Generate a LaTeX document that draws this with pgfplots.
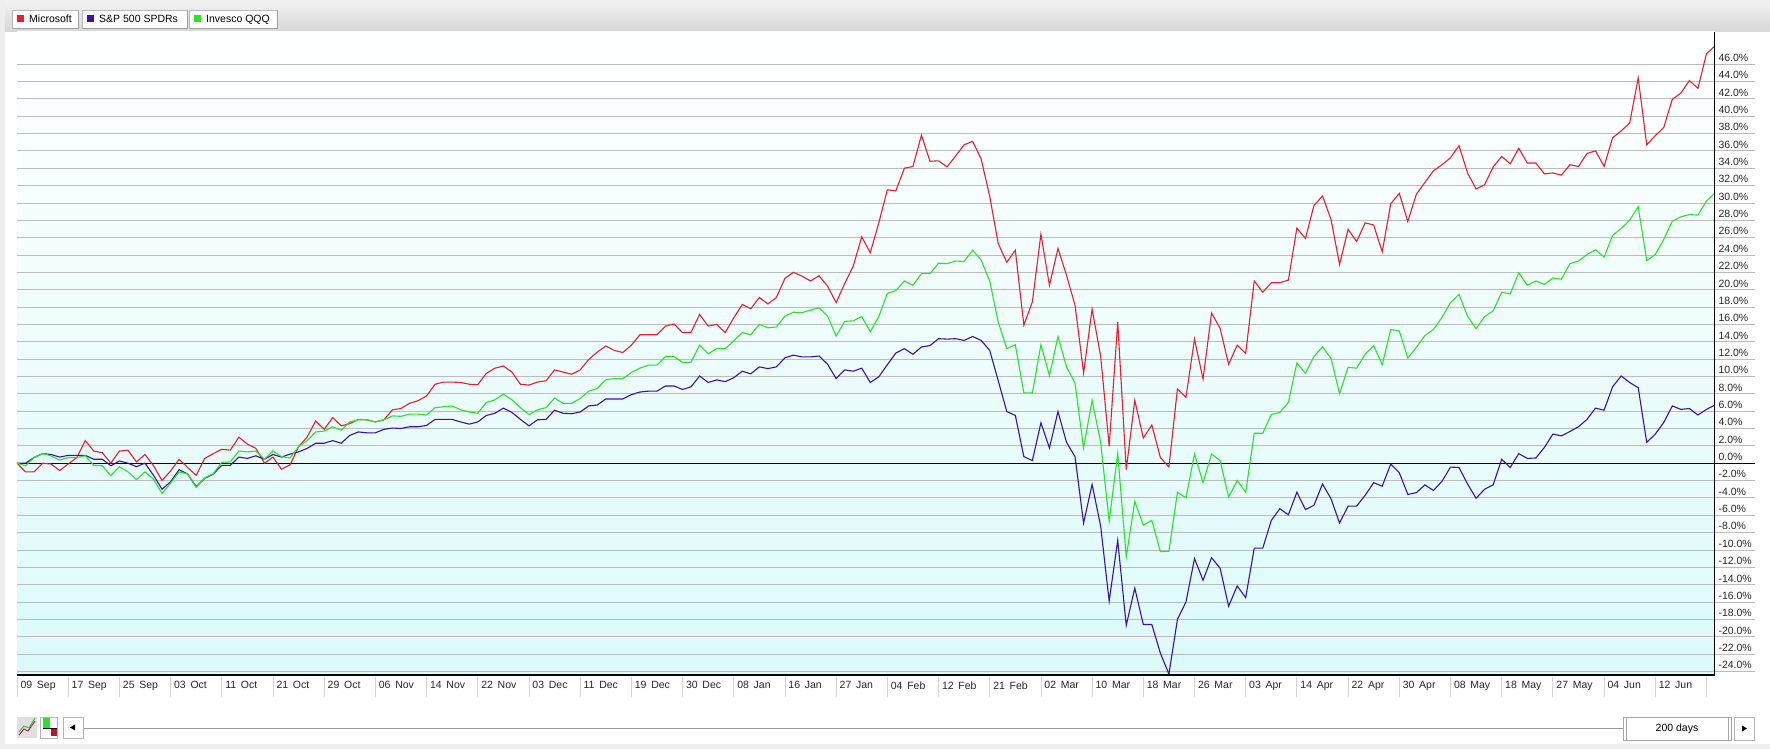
\documentclass[border=0pt]{standalone}
\usepackage{fontspec}
\setmainfont{Liberation Sans}
\usepackage{pgfplots}
\pgfplotsset{compat=1.18}
\usepackage{pgfplotstable}

\definecolor{msft}{RGB}{226,32,48}
\definecolor{spy}{RGB}{56,18,168}
\definecolor{qqq}{RGB}{42,226,42}
\definecolor{gridc}{RGB}{188,188,188}
\definecolor{bgc}{RGB}{220,250,250}
\definecolor{sepc}{RGB}{212,212,212}
\definecolor{hdr}{RGB}{238,238,238}

% percent change since 09 Sep 2019, one row per trading day
\pgfplotstableread{
i msft spy qqq
0 0 0 0
1 -1.0 0.0 -0.3
2 -1.0 0.65 0.65
3 0.0 1.1 1.1
4 -0.1 1.0 0.85
5 -0.85 0.7 0.35
6 -0.1 0.9 0.65
7 0.65 0.9 0.65
8 2.6 0.9 0.85
9 1.4 0.45 -0.25
10 1.2 0.45 -0.3
11 0.0 -0.3 -1.45
12 1.4 0.25 -0.4
13 1.5 0.0 -1.0
14 0.15 -0.4 -1.9
15 1.0 0.0 -1.0
16 -0.3 -1.4 -1.85
17 -2.0 -3.0 -3.5
18 -0.9 -2.15 -2.3
19 0.45 -0.75 -1.0
20 -0.5 -1.25 -1.25
21 -1.4 -2.7 -2.8
22 0.55 -1.75 -1.7
23 1.1 -1.25 -1.2
24 1.6 -0.25 0.1
25 1.5 -0.25 0.15
26 3.0 0.7 1.4
27 2.2 0.55 1.3
28 1.7 0.85 1.4
29 0.0 0.45 0.45
30 0.7 1.0 1.4
31 -0.7 0.7 0.75
32 -0.2 1.05 0.6
33 1.9 1.3 1.9
34 3.0 1.7 2.6
35 4.87 2.3 3.6
36 3.9 2.3 3.7
37 5.25 2.6 4.2
38 4.3 2.3 3.8
39 4.55 3.2 4.75
40 5.05 3.6 5.0
41 5.0 3.5 5.0
42 4.75 3.5 4.75
43 5.0 3.9 5.0
44 6.15 4.05 5.45
45 6.3 4.0 5.4
46 6.9 4.2 5.65
47 7.2 4.2 5.65
48 7.75 4.35 5.55
49 9.1 5.05 6.4
50 9.35 5.05 6.5
51 9.35 5.05 6.6
52 9.3 4.75 6.15
53 9.1 4.5 5.9
54 9.05 4.75 5.75
55 10.35 5.5 7.0
56 10.95 5.75 7.3
57 11.2 6.35 7.95
58 10.5 5.85 7.3
59 9.1 5.05 6.4
60 9.0 4.3 5.6
61 9.35 5.0 6.15
62 9.5 5.05 6.4
63 10.75 6.1 7.5
64 10.5 5.75 6.9
65 10.25 5.7 6.9
66 10.75 5.9 7.45
67 11.95 6.6 8.3
68 12.8 6.7 8.6
69 13.5 7.4 9.6
70 13.0 7.4 9.75
71 12.75 7.4 9.75
72 13.6 7.9 10.45
73 14.8 8.2 10.95
74 14.8 8.3 11.3
75 14.8 8.3 11.3
76 15.8 8.9 12.3
77 16.05 8.9 12.3
78 15.05 8.5 11.6
79 15.1 8.8 11.65
80 17.15 10.05 13.6
81 15.8 9.3 12.6
82 16.0 9.6 13.2
83 15.05 9.4 13.2
84 16.75 9.85 14.1
85 18.3 10.6 15.05
86 17.8 10.3 14.8
87 19.1 11.1 16.0
88 18.35 10.9 15.6
89 19.1 11.1 15.7
90 21.3 12.15 16.95
91 22.0 12.45 17.4
92 21.55 12.25 17.35
93 21.0 12.25 17.65
94 21.6 12.35 17.9
95 20.4 11.4 16.95
96 18.5 9.75 14.65
97 20.7 10.75 16.35
98 22.7 10.6 16.4
99 26.1 10.95 16.9
100 24.25 9.3 15.15
101 27.7 9.95 16.9
102 31.5 11.35 19.55
103 31.4 12.7 19.9
104 34.0 13.2 21.0
105 34.2 12.55 20.5
106 37.8 13.4 21.85
107 34.8 13.55 21.85
108 34.85 14.35 23.05
109 34.15 14.3 23.0
110 35.4 14.35 23.3
111 36.7 14.15 23.25
112 37.1 14.6 24.55
113 35.05 14.15 23.4
114 30.75 13.0 21.0
115 25.3 9.5 16.25
116 23.15 5.95 13.2
117 24.55 5.5 13.65
118 15.9 0.75 8.1
119 18.6 0.3 8.1
120 26.4 4.65 13.65
121 20.5 1.75 10.1
122 24.75 5.95 14.6
123 21.65 2.4 11.1
124 18.2 0.75 9.2
125 10.4 -6.9 1.75
126 17.75 -2.45 7.25
127 12.35 -7.25 2.4
128 1.95 -15.9 -6.7
129 16.25 -8.9 1.1
130 -0.75 -18.7 -10.8
131 7.25 -14.4 -4.4
132 2.9 -18.6 -7.15
133 4.4 -18.6 -6.6
134 0.65 -21.9 -10.2
135 -0.45 -24.3 -10.15
136 8.55 -18.0 -3.35
137 7.6 -16.0 -4.0
138 14.3 -11.0 1.05
139 9.7 -13.5 -2.25
140 17.3 -10.9 1.05
141 15.55 -12.1 0.3
142 11.4 -16.5 -3.9
143 13.6 -14.15 -2.0
144 12.65 -15.5 -3.35
145 21.0 -9.8 3.45
146 19.7 -9.8 3.45
147 20.8 -6.6 5.6
148 20.8 -5.25 5.85
149 21.1 -5.95 7.0
150 27.1 -3.35 11.55
151 25.9 -5.35 10.35
152 29.7 -4.85 12.3
153 30.8 -2.4 13.4
154 28.1 -4.1 12.1
155 22.9 -6.9 8.0
156 26.95 -4.95 11.05
157 25.55 -4.95 10.95
158 27.7 -3.7 12.55
159 27.45 -2.25 13.55
160 24.35 -2.65 11.35
161 29.9 -0.1 15.4
162 31.1 -1.1 15.25
163 27.85 -3.6 12.1
164 31.0 -3.4 13.35
165 32.35 -2.5 14.7
166 33.7 -3.15 15.4
167 34.4 -2.1 16.8
168 35.2 -0.45 18.5
169 36.6 -0.5 19.45
170 33.45 -2.4 16.95
171 31.6 -4.05 15.5
172 32.1 -3.0 16.9
173 34.15 -2.5 17.55
174 35.35 0.45 19.7
175 34.5 -0.5 19.5
176 36.3 1.1 21.95
177 34.6 0.55 20.5
178 34.6 0.6 21.0
179 33.35 1.8 20.6
180 33.45 3.35 21.35
181 33.2 3.15 21.2
182 34.4 3.65 23.0
183 34.2 4.2 23.3
184 35.7 5.05 24.05
185 36.0 6.35 24.6
186 34.2 6.1 23.75
187 37.5 8.8 26.25
188 38.3 10.05 27.05
189 39.2 9.3 28.0
190 44.4 8.7 29.55
191 36.7 2.4 23.35
192 37.75 3.35 24.05
193 38.7 4.7 25.8
194 41.95 6.6 27.9
195 42.65 6.2 28.4
196 44.1 6.3 28.65
197 43.2 5.55 28.6
198 47.2 6.2 30.2
199 48.1 6.7 31.15
}\perf

\newcommand{\dl}[2]{#1\hspace{0.45em}#2}

\begin{document}
\begin{tikzpicture}[x=1pt,y=1pt,font=\fontsize{10.5}{12}\selectfont]
\useasboundingbox (0,0) rectangle (1770,749);
\fill[white] (0,0) rectangle (1770,749);
% header bar
\shade[top color=hdr!70!white, bottom color=hdr!90!black] (0,717) rectangle (1770,749);
\fill[hdr] (0,0) rectangle (5,749);
\fill[hdr] (0,0) rectangle (1770,5);

% legend buttons
\foreach \a/\b/\c/\t/\tx in {12/78/msft/Microsoft/29, 82/187/spy/{S\&P 500 SPDRs}/99, 189/277/qqq/Invesco QQQ/206}{
  \draw[gray!55, fill=white] (\a,721) rectangle (\b,739);
  \draw[gray!75] (\a+0.5,720.5) -- (\b+0.5,720.5) -- (\b+0.5,738.5);
  \fill[\c] (\a+5,727) rectangle (\a+12,734);
  \node[anchor=base west, inner sep=0] at (\tx,726) {\t};
}

\node[anchor=base west, inner sep=0] at (17,705.5) {09 September 2019 - 23 June 2020};
\node[anchor=base east, inner sep=0, text=gray!55] at (1713,705.5) {Copyright, StockCharts.com};

\begin{axis}[
    at={(17pt,75pt)}, anchor=south west,
    scale only axis, width=1698pt, height=642pt,
    xmin=0, xmax=199, ymin=-24.3, ymax=49.7,
    clip=false,
    axis background/.style={top color=white, bottom color=bgc},
    axis line style={draw=none},
    major tick length=0pt,
    tick style={draw=none},
    ytick={-24,-22,...,46},
    ymajorgrids,
    grid style={gridc, line width=0.8pt},
    yticklabel pos=right,
    yticklabel={\pgfmathprintnumber[fixed,fixed zerofill,precision=1,assume math mode=true]{\tick}\%},
    yticklabel style={anchor=south west, yshift=-1pt},
    xtick={0,6,...,192},
    xticklabels={\dl{09}{Sep},\dl{17}{Sep},\dl{25}{Sep},\dl{03}{Oct},\dl{11}{Oct},\dl{21}{Oct},\dl{29}{Oct},
      \dl{06}{Nov},\dl{14}{Nov},\dl{22}{Nov},\dl{03}{Dec},\dl{11}{Dec},\dl{19}{Dec},\dl{30}{Dec},
      \dl{08}{Jan},\dl{16}{Jan},\dl{27}{Jan},\dl{04}{Feb},\dl{12}{Feb},\dl{21}{Feb},\dl{02}{Mar},
      \dl{10}{Mar},\dl{18}{Mar},\dl{26}{Mar},\dl{03}{Apr},\dl{14}{Apr},\dl{22}{Apr},\dl{30}{Apr},
      \dl{08}{May},\dl{18}{May},\dl{27}{May},\dl{04}{Jun},\dl{12}{Jun}},
    xticklabel style={anchor=north west, yshift=-4pt},
    tick label style={font=\fontsize{10.5}{12}\selectfont, text=black!85},
]
    % grid lines run on under the tick labels
    \pgfplotsinvokeforeach{-24,-22,...,46}{
        \draw[gridc, line width=0.8pt] (axis cs:199,#1) -- ([xshift=40pt]axis cs:199,#1);
    }
    \addplot[black, line width=1pt, forget plot] coordinates {(0,0) (199,0)};
    \draw[black, line width=1pt] (axis cs:199,0) -- ([xshift=40pt]axis cs:199,0);

    \addplot[msft, line width=1.1pt] table[x=i, y=msft] {\perf};
    \addplot[spy, line width=1.1pt] table[x=i, y=spy] {\perf};
    \addplot[qqq, line width=1.1pt] table[x=i, y=qqq] {\perf};

    % date strip separators
    \pgfplotsinvokeforeach{0,6,...,198}{
        \draw[sepc, line width=0.8pt] ([yshift=-3pt]axis cs:#1,-24.3) -- ([yshift=-23pt]axis cs:#1,-24.3);
    }
    \draw[black, line width=1.6pt] ([yshift=-0.8pt]rel axis cs:0,0) -- ([yshift=-0.8pt]rel axis cs:1,0);
    \draw[black, line width=1pt] (rel axis cs:1,1) -- ([yshift=-1.6pt]rel axis cs:1,0);
\end{axis}

% toolbar
\fill[gray!25] (17,11) rectangle (37,32);
\draw[msft!70!black, line width=0.8pt] (19,14) -- (24,20) -- (28,18) -- (35,28);
\draw[qqq!80!black, line width=0.8pt] (19,17) -- (24,23) -- (29,21) -- (35,31);
\draw[gray!60, fill=white] (40,11) rectangle (57,32);
\fill[qqq] (43,21) rectangle (50,31);
\fill[msft!80!black] (51,13) rectangle (57,21);
\draw[black, line width=0.6pt] (43,21) -- (57,21);
\draw[gray!60, fill=white] (63,11) rectangle (83,32);
\fill[black] (70,21.5) -- (75,24.5) -- (75,18.5) -- cycle;
\draw[gray!80, line width=0.8pt] (84,21) -- (1623,21);
\draw[gray!70, fill=white] (1623,9) rectangle (1731,32);
\draw[gray!70] (1626,9) -- (1626,32) (1728,9) -- (1728,32);
\node at (1677,20.5) {200 days};
\draw[gray!60, fill=white] (1734,9) rectangle (1754,32);
\fill[black] (1747,20.5) -- (1742,23.5) -- (1742,17.5) -- cycle;
\end{tikzpicture}
\end{document}
